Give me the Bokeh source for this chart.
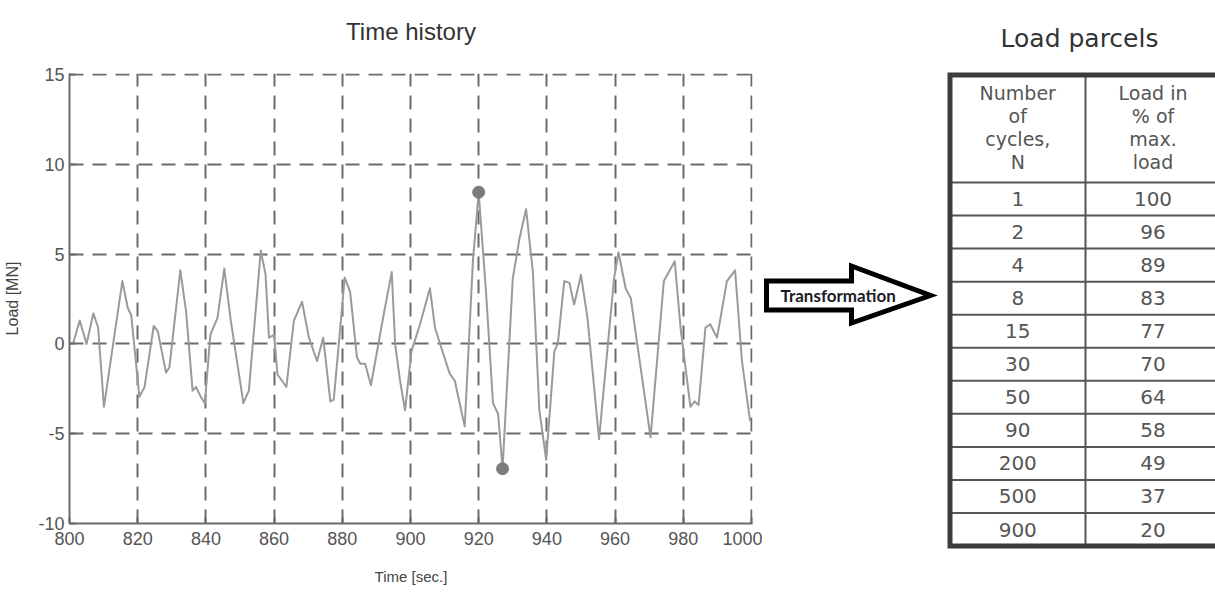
from bokeh.plotting import figure
from bokeh.layouts import row
from bokeh.models import Range1d, FixedTicker
from bokeh.core.properties import value
from bokeh.embed import file_html
from bokeh.resources import INLINE

# ---------------- data ----------------
time_s = [801, 803, 805, 807, 808.4, 810.1, 815.5, 817.1, 818.1, 820.5, 822, 824.7, 825.9,
          828.3, 829.3, 832.5, 834.2, 836.1, 837.1, 838.5, 839.7, 841.3, 843.4, 845.4, 847.3,
          851, 852.6, 856.1, 857.5, 858.5, 860, 861, 863.6, 865.8, 868.2, 870.2, 872.6, 874.4,
          876.5, 877.5, 879.4, 880.7, 882.3, 884.3, 885.3, 886.7, 888.4, 892.1, 894.5, 895.5,
          896.9, 898.4, 900.3, 902.8, 905.7, 907.2, 909.6, 911.5, 913, 915.9, 918.3, 920,
          922.2, 924.2, 925.7, 927, 930, 932, 933.9, 935.9, 937.8, 939.8, 942.2, 943.2, 945.1,
          946.6, 948, 950, 951.9, 955.3, 959.7, 961, 963.1, 964.6, 970.4, 974.3, 977.5,
          979.2, 982.1, 983.3, 984.5, 986.5, 987.9, 989.9, 992.8, 995.2, 997.2, 999.6]
load_mn = [0.0, 1.3, 0.0, 1.7, 0.9, -3.5, 3.5, 2.0, 1.6, -2.95, -2.4, 1.0, 0.7,
           -1.6, -1.3, 4.1, 1.8, -2.6, -2.4, -2.95, -3.3, 0.5, 1.45, 4.2, 1.3,
           -3.3, -2.6, 5.2, 3.85, 0.35, 0.5, -1.7, -2.4, 1.3, 2.35, 0.35, -0.95, 0.35,
           -3.2, -3.1, 0.9, 3.7, 2.9, -0.75, -1.1, -1.1, -2.3, 1.6, 4.0, 0.0,
           -2.0, -3.7, -0.4, 1.1, 3.1, 0.9, -0.55, -1.65, -2.05, -4.6, 4.6, 8.45,
           2.75, -3.3, -3.9, -6.95, 3.65, 5.9, 7.5, 4.0, -3.7, -6.45, -0.4, 0.0, 3.5,
           3.4, 2.2, 3.85, 1.45, -5.3, 3.65, 5.1, 3.1, 2.55, -5.2, 3.5, 4.6,
           0.9, -3.5, -3.2, -3.4, 0.9, 1.1, 0.35, 3.5, 4.1, -0.95, -4.3]

x_ticks = [800, 820, 840, 860, 880, 900, 920, 940, 960, 980, 1000]
y_ticks = [-10, -5, 0, 5, 10, 15]

cycles = ["1", "2", "4", "8", "15", "30", "50", "90", "200", "500", "900"]
load_pct = ["100", "96", "89", "83", "77", "70", "64", "58", "49", "37", "20"]
header_left = ["Number", "of", "cycles,", "N"]
header_right = ["Load in", "% of", "max.", "load"]

FONT = "Liberation Sans"
GRID = "#6a6a6a"

# ---------------- time history ----------------
p = figure(width=762, height=592, x_range=Range1d(800, 1000.3), y_range=Range1d(-10, 15.06),
           output_backend="svg", toolbar_location=None,
           min_border_left=69, min_border_right=10, min_border_top=73, min_border_bottom=69)
p.background_fill_color = "white"
p.border_fill_color = "white"
p.outline_line_color = None

p.title.text = "Time history\n"
p.title.align = "center"
p.title.vertical_align = "top"
p.title.text_font = FONT
p.title.text_font_size = "24px"
p.title.text_font_style = "normal"
p.title.text_color = "#333333"
p.title.standoff = 0

p.xaxis.ticker = FixedTicker(ticks=x_ticks)
p.yaxis.ticker = FixedTicker(ticks=y_ticks)
p.yaxis.major_label_overrides = {t: str(t) for t in y_ticks}
for ax in (p.xaxis[0], p.yaxis[0]):
    ax.axis_line_color = "#6a6a6a"
    ax.axis_line_width = 2
    ax.major_tick_line_color = "#6a6a6a"
    ax.major_tick_line_width = 2
    ax.major_tick_in = 6
    ax.major_tick_out = 0
    ax.minor_tick_line_color = None
    ax.major_label_text_font = FONT
    ax.major_label_text_font_size = "18px"
    ax.major_label_text_color = "#555555"
    ax.axis_label_text_font = FONT
    ax.axis_label_text_font_style = "normal"
    ax.axis_label_text_color = "#444444"

p.xaxis.major_label_standoff = 8
p.xaxis.axis_label = "Time [sec.]"
p.xaxis.axis_label_text_font_size = "15px"
p.xaxis.axis_label_standoff = 20
p.yaxis.major_label_standoff = 5
p.yaxis.axis_label = "Load [MN]"
p.yaxis.axis_label_text_font_size = "16px"
p.yaxis.axis_label_standoff = 14

for g in (p.xgrid[0], p.ygrid[0]):
    g.grid_line_color = GRID
    g.grid_line_width = 2
    g.grid_line_dash = "14 9"

p.line(time_s, load_mn, line_color="#9a9a9a", line_width=2, line_join="round")

i_max = max(range(len(load_mn)), key=lambda i: load_mn[i])
i_min = min(range(len(load_mn)), key=lambda i: load_mn[i])
p.scatter([time_s[i_max], time_s[i_min]], [load_mn[i_max], load_mn[i_min]],
          marker="circle", size=12, fill_color="#7c7c7c", line_color="#7c7c7c")

# ---------------- arrow + table ----------------
q = figure(width=453, height=592, x_range=Range1d(762, 1215), y_range=Range1d(592, 0),
           output_backend="svg", toolbar_location=None, min_border=0)
q.axis.visible = False
q.grid.visible = False
q.outline_line_color = None
q.background_fill_color = "white"
q.border_fill_color = "white"
for fig in (p, q):
    try:
        fig.frame_align = False
    except Exception:
        pass

# arrow
ax0, axb, atip = 766, 851, 930
sh_t, sh_b, hd_t, hd_b = 280.5, 309.5, 265.5, 322.5
amid = (sh_t + sh_b) / 2
q.patch([ax0, axb, axb, atip, axb, axb, ax0], [sh_t, sh_t, hd_t, amid, hd_b, sh_b, sh_b],
        fill_color="white", line_color="black", line_width=5, line_join="miter")
q.text([780], [amid], text=["Transformation"], text_font=value("Lato"),
       text_font_style="bold", text_font_size="17px", text_color="#1c1c28",
       text_align="left", text_baseline="middle")

# table geometry
t_left, t_right, t_div = 949.5, 1222, 1085
t_top, t_head, row_h = 74.5, 182, 33.05
n = len(cycles)
t_bot = t_head + n * row_h
row_lines = [t_head + i * row_h for i in range(n)]
q.segment(x0=[t_left] * n, x1=[t_right] * n, y0=row_lines, y1=row_lines,
          line_color="#555555", line_width=2)
q.segment(x0=[t_div], x1=[t_div], y0=[t_top], y1=[t_bot], line_color="#555555", line_width=2)
q.line([t_right, t_left, t_left, t_right], [t_top, t_top, t_bot, t_bot],
       line_color="#3c3c3c", line_width=5, line_join="miter")

c1 = (t_left + t_div) / 2
c2 = (t_div + t_right) / 2 - 1
rows_y = [t_head + (i + 0.5) * row_h for i in range(n)]
q.text([c1] * n, rows_y, text=cycles, text_font=value("DejaVu Sans"), text_font_size="20px",
       text_color="#555555", text_align="center", text_baseline="middle")
q.text([c2] * n, rows_y, text=load_pct, text_font=value("DejaVu Sans"), text_font_size="20px",
       text_color="#555555", text_align="center", text_baseline="middle")
hy = [92 + i * 23.3 for i in range(len(header_left))]
q.text([c1] * 4, hy, text=header_left, text_font=value("DejaVu Sans"), text_font_size="19px",
       text_color="#555555", text_align="center", text_baseline="middle")
q.text([c2] * 4, hy, text=header_right, text_font=value("DejaVu Sans"), text_font_size="19px",
       text_color="#555555", text_align="center", text_baseline="middle")

q.text([1079], [38], text=["Load parcels"], text_font=value("DejaVu Sans"),
       text_font_size="25px", text_color="#333333", text_align="center",
       text_baseline="middle")

layout = row(p, q)
open("out.html", "w").write(file_html(layout, INLINE))
